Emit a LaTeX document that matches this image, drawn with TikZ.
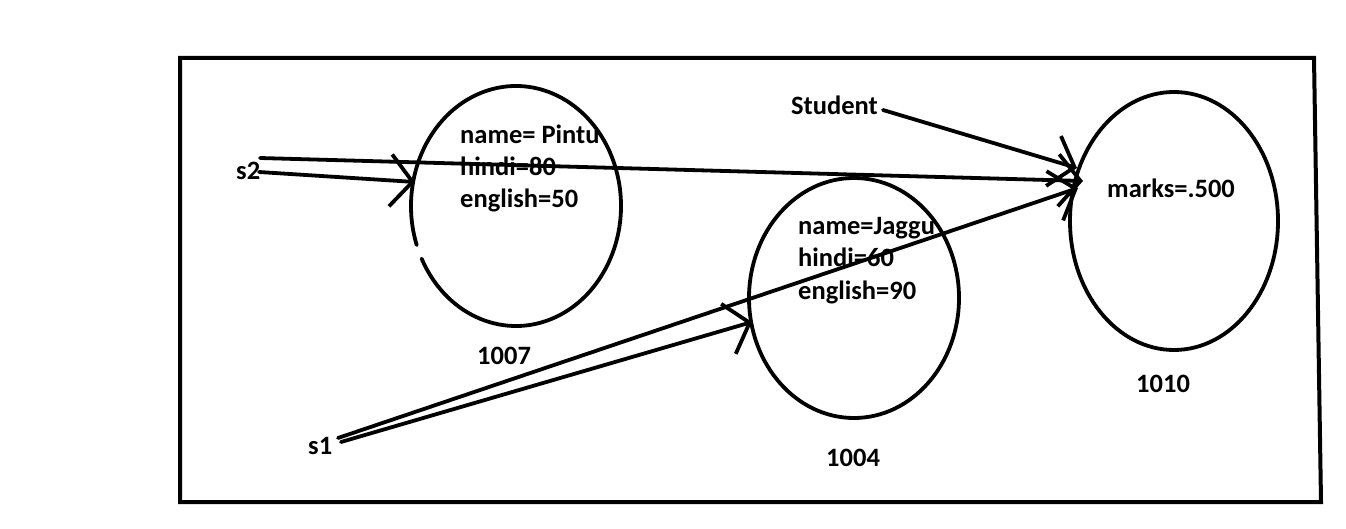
\documentclass[tikz,border=0pt]{standalone}
\usepackage{fontspec}
\setmainfont{Carlito}
\usetikzlibrary{arrows.meta}
\begin{document}
\begin{tikzpicture}[x=1pt,y=-1pt,
  ln/.style={line width=3.8pt, line cap=round},
  txt/.style={font=\bfseries\fontsize{26.5}{30}\selectfont, inner sep=0pt, anchor=base west},
  arr/.style={ln, -{Straight Barb[length=22pt,width=52pt,line width=3.8pt]}}]
\useasboundingbox[fill=white] (0,0) rectangle (1346,529);
% frame
\draw[line width=4pt, line join=miter] (180,58) -- (1314,58) -- (1321,502) -- (180,502) -- cycle;
% objects
\draw[ln] ([shift={(161:105 and 120)}]516,206) arc[start angle=161, end angle=514, x radius=105, y radius=120];
\draw[ln] (854,298) ellipse [x radius=105, y radius=120];
\draw[ln] (1174,221) ellipse [x radius=104, y radius=129];
% texts
\node[txt] (p1) at (460,144) {name= Pintu};
\node[txt] (p2) at (460,176) {hindi=80};
\node[txt] (p3) at (460,208) {english=50};
\node[txt] (j1) at (798,235) {name=Jaggu};
\node[txt] (j2) at (798,267) {hindi=60};
\node[txt] (j3) at (798,299) {english=90};
\node[txt] (mk) at (1107,198) {marks=.500};
\node[txt] (stu) at (791,115) {Student};
\node[txt] (s2) at (236,180) {s2};
\node[txt] (s1) at (308,454) {s1};
\node[txt] (a1007) at (477,364) {1007};
\node[txt] (a1004) at (826,466) {1004};
\node[txt] (a1010) at (1136,392) {1010};
% connector ends
\coordinate (s2t) at (260,158);
\coordinate (s2b) at (259,172);
\coordinate (s1a) at (338,438);
\coordinate (s1b) at (341,442);
\coordinate (stuR) at (883,110);
\coordinate (e1in) at (415,182);
\coordinate (e2in) at (752,322);
\coordinate (e3a) at (1077,168);
\coordinate (e3b) at (1083,181);
\coordinate (e3c) at (1078,188);
% connectors
\draw[arr] (s2b) -- (e1in);
\draw[arr] (s2t) -- (e3b);
\draw[arr] (s1b) -- (e2in);
\draw[arr] (s1a) -- (e3c);
\draw[arr] (stuR) -- (e3a);
\end{tikzpicture}
\end{document}
